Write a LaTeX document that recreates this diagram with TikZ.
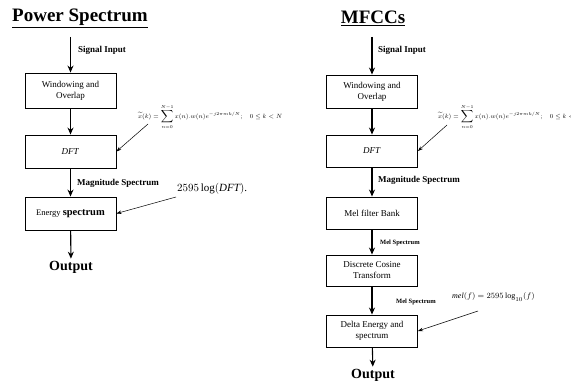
\documentclass[tikz,border=0pt]{standalone}
\usepackage{fontspec}
\usepackage{graphicx}
\setmainfont{Liberation Serif}
\usetikzlibrary{arrows.meta}
\newcommand{\dftformula}{\resizebox{144pt}{!}{$\displaystyle \widetilde{x}(k)=\sum_{n=0}^{N-1}x(n).w(n)e^{-j2\pi mk/N};\quad 0\le k<N$}}
\begin{document}
\begin{tikzpicture}[x=1pt,y=-1pt,
  blk/.style={draw,line width=0.9pt,minimum width=91pt,inner sep=1pt,align=center,font=\fontsize{9}{11}\selectfont},
  flow/.style={line width=1.1pt,-{Stealth[length=7pt,width=6pt]}},
  lead/.style={line width=0.5pt,-{Stealth[length=5pt,width=3.5pt]}},
  lbl/.style={font=\fontsize{9}{10}\selectfont\bfseries,anchor=west,inner sep=0},
  sml/.style={font=\fontsize{6.5}{8}\selectfont\bfseries,anchor=west,inner sep=0},
  ttl/.style={font=\fontsize{19}{21}\selectfont\bfseries},
  outp/.style={font=\fontsize{14}{16}\selectfont\bfseries,inner sep=2pt},
  frm/.style={anchor=west,inner sep=0,font=\fontsize{7}{8}\selectfont}]
\useasboundingbox (0,0) rectangle (571,382);

% ---------------- Power Spectrum ----------------
\node[ttl] (ltitle) at (80,18) {\underline{Power Spectrum}};
\coordinate (lin) at (70.5,37);
\node[blk,minimum height=35pt] (lwin) at (70.5,90.5) {Windowing and\\Overlap};
\node[blk,minimum height=33pt] (ldft) at (70.5,151.5) {\textit{DFT}};
\node[blk,minimum height=33pt] (leng) at (70.5,213.5) {{\fontsize{8.5}{10}\selectfont Energy} {\fontsize{10.5}{12}\selectfont\bfseries spectrum}};
\node[outp] (lout) at (71,267) {Output};

\draw[flow] (lin) -- (lwin);
\draw[flow] (lwin) -- (ldft);
\draw[flow] (ldft) -- (leng);
\draw[flow] (leng) -- (lout);

\node[lbl] (lsig) at (78,50) {Signal Input};
\node[lbl] (lmag) at (77,183) {Magnitude Spectrum};

\node[frm] (lform) at (138,117) {\dftformula};
\coordinate (lformp) at (148,124);
\draw[lead] (lformp) -- (ldft.east);

\node[anchor=west,inner sep=0,font=\fontsize{11}{12}\selectfont] (llog) at (177,189) {$2595\log(\mathit{DFT})$.};
\coordinate (llogp) at (176,197);
\draw[lead] (llogp) -- (leng.east);

% ---------------- MFCCs ----------------
\node[ttl] (rtitle) at (373,18) {\underline{MFCCs}};
\coordinate (rin) at (372,37);
\node[blk,minimum height=33pt] (rwin) at (372,91.5) {Windowing and\\Overlap};
\node[blk,minimum height=32pt] (rdft) at (372,151) {\textit{DFT}};
\node[blk,minimum height=32pt] (rmel) at (372,213) {Mel filter Bank};
\node[blk,minimum height=31pt] (rdct) at (372,270.5) {Discrete Cosine\\Transform};
\node[blk,minimum height=32pt] (rdel) at (372,331) {Delta Energy and\\spectrum};
\node[outp] (rout) at (373,375) {Output};

\draw[flow] (rin) -- (rwin);
\draw[flow] (rwin) -- (rdft);
\draw[flow] (rdft) -- (rmel);
\draw[flow] (rmel) -- (rdct);
\draw[flow] (rdct) -- (rdel);
\draw[flow] (rdel) -- (rout);

\node[lbl] (rsig) at (378,50) {Signal Input};
\node[lbl] (rmag) at (378,180) {Magnitude Spectrum};
\node[sml] (rms1) at (380,243) {Mel Spectrum};
\node[sml] (rms2) at (396,302) {Mel Spectrum};

\node[frm] (rform) at (438,117) {\dftformula};
\coordinate (rformp) at (447,125);
\draw[lead] (rformp) -- (rdft.east);

\node[anchor=west,inner sep=0,font=\fontsize{8}{9}\selectfont] (rmelf) at (452,297) {$\mathit{mel}(f)=2595\log_{10}(f)$};
\coordinate (rmelp) at (478,311);
\draw[lead] (rmelp) -- (rdel.east);
\end{tikzpicture}
\end{document}
